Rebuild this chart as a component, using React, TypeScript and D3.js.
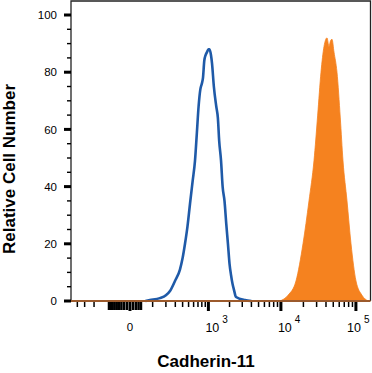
import React, { useEffect, useRef } from 'react';
import * as d3 from 'd3';

// control (blue outline) histogram: channel value / relative count
const controlX = [60, 84, 150, 200, 240, 296, 361, 400, 438, 480, 527, 580, 630, 670, 715, 760, 800, 832, 870, 910, 954, 1000, 1040, 1090, 1130, 1200, 1300, 1370, 1430, 1520, 1600, 1700, 1800, 1900, 2000, 2100, 2200, 2300, 2460, 3270, 4000];
const controlY = [0, 0.3, 1, 2, 3.5, 7, 11, 15, 20, 26, 34, 42, 49, 58, 68, 74, 76, 78, 84, 86, 87, 88, 88, 86, 83, 75, 68, 64, 56, 49, 40, 35, 27, 20, 13, 9, 6, 4, 1.4, 0.3, 0];

// Cadherin-11 stained (orange filled) histogram
const stainedX = [9720, 12450, 15920, 19750, 23740, 27670, 31000, 34310, 37640, 41260, 43870, 46000, 48080, 51150, 56030, 62000, 67350, 76140, 86080, 100260, 120550, 144800];
const stainedY = [0, 2, 7, 20, 35, 49, 65, 80, 89, 92, 89, 91, 91.5, 87, 80, 64, 49, 35, 20, 7, 2, 0];

const yTickValues = [0, 20, 40, 60, 80, 100];
const xMajorTicks = [0, 1e3, 1e4, 1e5];
const xTickLabels = ['0', '10|3', '10|4', '10|5'];

const App = () => {
  const svgRef = useRef<SVGSVGElement>(null);

  useEffect(() => {
    const svg = d3.select(svgRef.current);
    svg.selectAll('*').remove();

    const width = 372;
    const height = 373;
    const margin = { top: 1, right: 1, bottom: 72, left: 71 };
    const font = 'Liberation Sans, Arial, Helvetica, sans-serif';

    const x = d3.scaleSymlog()
      .constant(100)
      .domain([-507, 158700])
      .range([margin.left, width - margin.right]);

    const y = d3.scaleLinear()
      .domain([0, 100])
      .range([height - margin.bottom, 15]);

    const y0 = y(0);

    // stained histogram (filled)
    const stained = stainedX.map((v, i) => ({ v, c: stainedY[i] }));
    const area = d3.area<{ v: number; c: number }>()
      .x(d => x(d.v))
      .y0(y0)
      .y1(d => y(d.c))
      .curve(d3.curveMonotoneX);
    svg.append('path')
      .datum(stained)
      .attr('fill', '#f5821f')
      .attr('stroke', '#f5821f')
      .attr('stroke-width', 0.8)
      .attr('d', area);

    // control histogram (outline)
    const control = controlX.map((v, i) => ({ v, c: controlY[i] }));
    const line = d3.line<{ v: number; c: number }>()
      .x(d => x(d.v))
      .y(d => y(d.c))
      .curve(d3.curveMonotoneX);
    svg.append('path')
      .datum(control)
      .attr('fill', 'none')
      .attr('stroke', '#1f5aa8')
      .attr('stroke-width', 2.6)
      .attr('stroke-linejoin', 'round')
      .attr('d', line);

    // frame
    const xl = margin.left;
    const xr = width - margin.right - 0.5;
    svg.append('path')
      .attr('d', `M${xl},${y0}V${margin.top}H${xr}V${y0}`)
      .attr('fill', 'none')
      .attr('stroke', '#222')
      .attr('stroke-width', 1.3);
    svg.append('line')
      .attr('x1', xl).attr('x2', xr)
      .attr('y1', y0).attr('y2', y0)
      .attr('stroke', '#9c5a2c')
      .attr('stroke-width', 2);

    // y ticks
    const yg = svg.append('g');
    d3.range(0, 101, 5).forEach(v => {
      const major = v % 20 === 0;
      yg.append('line')
        .attr('x1', major ? xl - 7 : xl - 4).attr('x2', xl)
        .attr('y1', y(v)).attr('y2', y(v))
        .attr('stroke', '#000')
        .attr('stroke-width', major ? 3 : 1.4);
    });
    yg.selectAll('text')
      .data(yTickValues)
      .join('text')
      .attr('x', 57)
      .attr('y', d => y(d))
      .attr('dy', '0.36em')
      .attr('text-anchor', 'end')
      .attr('font-family', font)
      .attr('font-size', 11.5)
      .text(d => d);

    // x ticks: dense near zero, then log decades
    const xg = svg.append('g');
    const denseTicks = d3.range(-90, 50, 10).filter(v => v !== 0);
    const minorTicks = [-400, -300, -200,
      ...d3.range(100, 1000, 100),
      ...d3.range(2e3, 1e4, 1e3),
      ...d3.range(2e4, 1e5, 1e4)];
    minorTicks.forEach(v => {
      xg.append('line')
        .attr('x1', x(v)).attr('x2', x(v))
        .attr('y1', y0 + 1).attr('y2', y0 + 6)
        .attr('stroke', '#000').attr('stroke-width', 1.5);
    });
    denseTicks.forEach(v => {
      xg.append('line')
        .attr('x1', x(v)).attr('x2', x(v))
        .attr('y1', y0 + 1).attr('y2', y0 + 9)
        .attr('stroke', '#000').attr('stroke-width', 2.5);
    });
    xMajorTicks.forEach(v => {
      xg.append('line')
        .attr('x1', x(v)).attr('x2', x(v))
        .attr('y1', y0 + 1).attr('y2', y0 + 10)
        .attr('stroke', '#000').attr('stroke-width', 3);
    });

    xMajorTicks.forEach((v, i) => {
      const [base, exp] = xTickLabels[i].split('|');
      if (!exp) {
        xg.append('text')
          .attr('x', x(v))
          .attr('y', 331)
          .attr('text-anchor', 'middle')
          .attr('font-family', font)
          .attr('font-size', 11.5)
          .text(base);
        return;
      }
      const lx = Math.min(x(v) - 3, width - 25);
      const t = xg.append('text')
        .attr('x', lx)
        .attr('y', 332)
        .attr('font-family', font)
        .attr('font-size', 12.5)
        .text(base);
      t.append('tspan')
        .attr('dx', 3)
        .attr('dy', -9)
        .attr('font-size', 10)
        .text(exp);
    });

    // axis titles
    svg.append('text')
      .attr('x', 206)
      .attr('y', 367)
      .attr('text-anchor', 'middle')
      .attr('font-family', font)
      .attr('font-weight', 'bold')
      .attr('font-size', 17)
      .text('Cadherin-11');

    svg.append('text')
      .attr('transform', 'translate(15,169) rotate(-90)')
      .attr('text-anchor', 'middle')
      .attr('font-family', font)
      .attr('font-weight', 'bold')
      .attr('font-size', 17)
      .text('Relative Cell Number');
  }, []);

  return (
    <svg
      ref={svgRef}
      width={372}
      height={373}
      style={{ position: 'absolute', left: 0, top: 0, background: '#fff' }}
    ></svg>
  );
};

export default App;
